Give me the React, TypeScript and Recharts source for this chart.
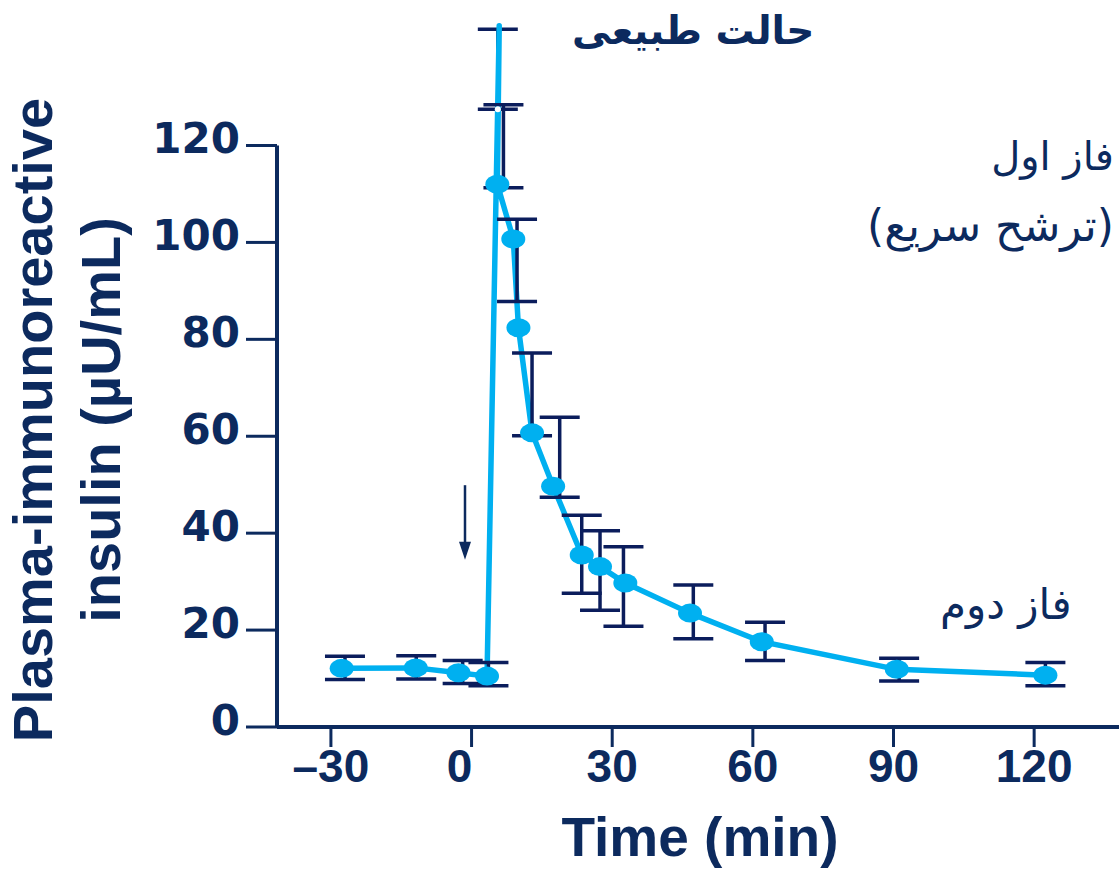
import { ComposedChart, Line, XAxis, YAxis, ErrorBar, ReferenceLine, Label } from 'recharts'

const NAVY = '#0C2A5E'
const BAR = '#0B1D5C'
const CYAN = '#00B0F0'

// insulin curve: minutes vs µU/mL. entry 4 is the off-scale first-phase peak (no dot)
const times = [-27.7, -11.9, -2.8, 3.3, 5.9, 5.5, 8.9, 10.0, 12.9, 17.4, 23.5, 27.4, 32.8, 46.6, 61.9, 90.7, 122.4]
const insulin = [12.1, 12.2, 11.2, 10.5, 144.7, 112.0, 100.7, 82.4, 60.7, 49.7, 35.5, 33.1, 29.7, 23.5, 17.6, 11.9, 10.7]
const peakIndex = 4

// error bars (they sit a bit off the dots in the original figure)
const errTimes = [-27.0, -11.8, -1.9, 3.6, 5.6, 6.8, 9.7, 12.9, 18.8, 23.5, 27.4, 32.4, 47.3, 62.6, 91.2, 122.4]
const errLow = [9.8, 9.9, 9.0, 8.5, 127.5, 111.3, 87.8, 60.1, 47.4, 27.6, 24.1, 20.8, 18.2, 13.7, 9.5, 8.5]
const errHigh = [14.6, 14.7, 13.7, 13.3, 144.0, 128.4, 104.8, 77.2, 63.9, 43.7, 40.5, 37.2, 29.3, 21.6, 14.2, 13.3]
const underCurve = 4 // this bar is hidden behind the spike

const xTicks = [-30, 0, 30, 60, 90, 120]
const yTicks = [0, 20, 40, 60, 80, 100, 120]

// glucose arrow at t≈-1.4
const arrowT = -1.4
const arrowFrom = 49.9
const arrowTo = 34.5

const curve = times.map((t, i) => ({ t, v: insulin[i] }))
const bars = errTimes.map((t, i) => ({ t, v: errLow[i], e: [0, errHigh[i] - errLow[i]] }))
const barsOver = bars.filter((_, i) => i !== underCurve)
const barsUnder = bars.filter((_, i) => i === underCurve)

const renderDot = (p: any) => {
  if (p.index === peakIndex) return <g key={`d${p.index}`} />
  return <ellipse key={`d${p.index}`} cx={p.cx} cy={p.cy} rx={12} ry={9.5} fill={CYAN} />
}

const XTick = ({ x, y, payload }: any) => {
  const v = payload.value
  // the "0" label sits a little left of its tick in the original
  const shift = v === 0 ? -12 : 0
  return (
    <text x={x + shift} y={y} dy={33} textAnchor="middle" fill={NAVY}
      style={{ fontFamily: 'Liberation Sans, Arial, sans-serif', fontWeight: 700, fontSize: 46 }}>
      {v < 0 ? `–${Math.abs(v)}` : v}
    </text>
  )
}

const YTick = ({ x, y, payload }: any) => (
  <text x={x} y={y} dy={8} textAnchor="end" fill={NAVY}
    style={{ fontFamily: 'DejaVu Sans, sans-serif', fontWeight: 700, fontSize: 42 }}>
    {payload.value}
  </text>
)

const YTitle = () => {
  const font = { fontFamily: 'Liberation Sans, Arial, sans-serif', fontWeight: 700, fontSize: 56 }
  return (
    <g fill={NAVY} style={font}>
      <text x={52} y={420} textAnchor="middle" transform="rotate(-90 52 420)">Plasma-immunoreactive</text>
      <text x={120} y={420} textAnchor="middle" transform="rotate(-90 120 420)">insulin (µU/mL)</text>
    </g>
  )
}

const XTitle = () => (
  <text x={700} y={856} textAnchor="middle" fill={NAVY}
    style={{ fontFamily: 'Liberation Sans, Arial, sans-serif', fontWeight: 700, fontSize: 55 }}>
    Time (min)
  </text>
)

const Arrow = ({ x1, y1, y2 }: any) => (
  <g>
    <line x1={x1} y1={y1} x2={x1} y2={y2 - 16} stroke={NAVY} strokeWidth={2.5} />
    <polygon points={`${x1 - 6},${y2 - 18} ${x1 + 6},${y2 - 18} ${x1},${y2}`} fill={NAVY} />
  </g>
)

const note = { position: 'absolute' as const, fontFamily: 'DejaVu Sans, sans-serif', color: NAVY, direction: 'rtl' as const, whiteSpace: 'nowrap' as const, lineHeight: 1 }

export default function App() {
  return (
    <div style={{ position: 'absolute', left: 0, top: 0, width: 1119, height: 872, background: '#fff' }}>
      <ComposedChart width={1119} height={872} margin={{ top: 4, right: 0, bottom: 0, left: 0 }}>
        <XAxis
          type="number" dataKey="t" domain={[-41.5, 138.1]} ticks={xTicks} allowDataOverflow
          height={145} tickSize={20} tick={<XTick />}
          axisLine={{ stroke: NAVY, strokeWidth: 4 }} tickLine={{ stroke: NAVY, strokeWidth: 3 }}
        >
          <Label content={<XTitle />} />
        </XAxis>
        <YAxis
          type="number" domain={[0, 149.2]} ticks={yTicks} allowDataOverflow
          width={277} tickSize={31} tickMargin={6} tick={<YTick />}
          axisLine={false} tickLine={{ stroke: NAVY, strokeWidth: 3 }}
        >
          <Label content={<YTitle />} />
        </YAxis>
        <ReferenceLine segment={[{ x: -41.5, y: 0 }, { x: -41.5, y: 120 }]} stroke={NAVY} strokeWidth={4} ifOverflow="visible" />
        <ReferenceLine
          segment={[{ x: arrowT, y: arrowFrom }, { x: arrowT, y: arrowTo }]} ifOverflow="visible"
          shape={(p: any) => <Arrow x1={p.x1} y1={p.y1} y2={p.y2} />}
        />
        <Line data={barsUnder} dataKey="v" stroke="none" dot={false} activeDot={false} isAnimationActive={false} legendType="none">
          <ErrorBar dataKey="e" direction="y" width={20} stroke={BAR} strokeWidth={3.5} isAnimationActive={false} />
        </Line>
        <Line
          data={curve} dataKey="v" type="linear" stroke={CYAN} strokeWidth={5.5}
          strokeLinejoin="round" strokeLinecap="round"
          dot={renderDot} activeDot={false} isAnimationActive={false}
        />
        <Line data={barsOver} dataKey="v" stroke="none" dot={false} activeDot={false} isAnimationActive={false} legendType="none">
          <ErrorBar dataKey="e" direction="y" width={20} stroke={BAR} strokeWidth={3.5} isAnimationActive={false} />
        </Line>
      </ComposedChart>

      <div style={{ ...note, left: 572, top: 11, fontSize: 39, fontWeight: 700 }}>حالت طبیعی</div>
      <div style={{ ...note, right: 5, top: 136, fontSize: 40, textAlign: 'right' }}>فاز اول</div>
      <div style={{ ...note, right: 5, top: 204, fontSize: 44, textAlign: 'right' }}>(ترشح سریع)</div>
      <div style={{ ...note, left: 940, top: 584, fontSize: 42 }}>فاز دوم</div>
    </div>
  )
}
